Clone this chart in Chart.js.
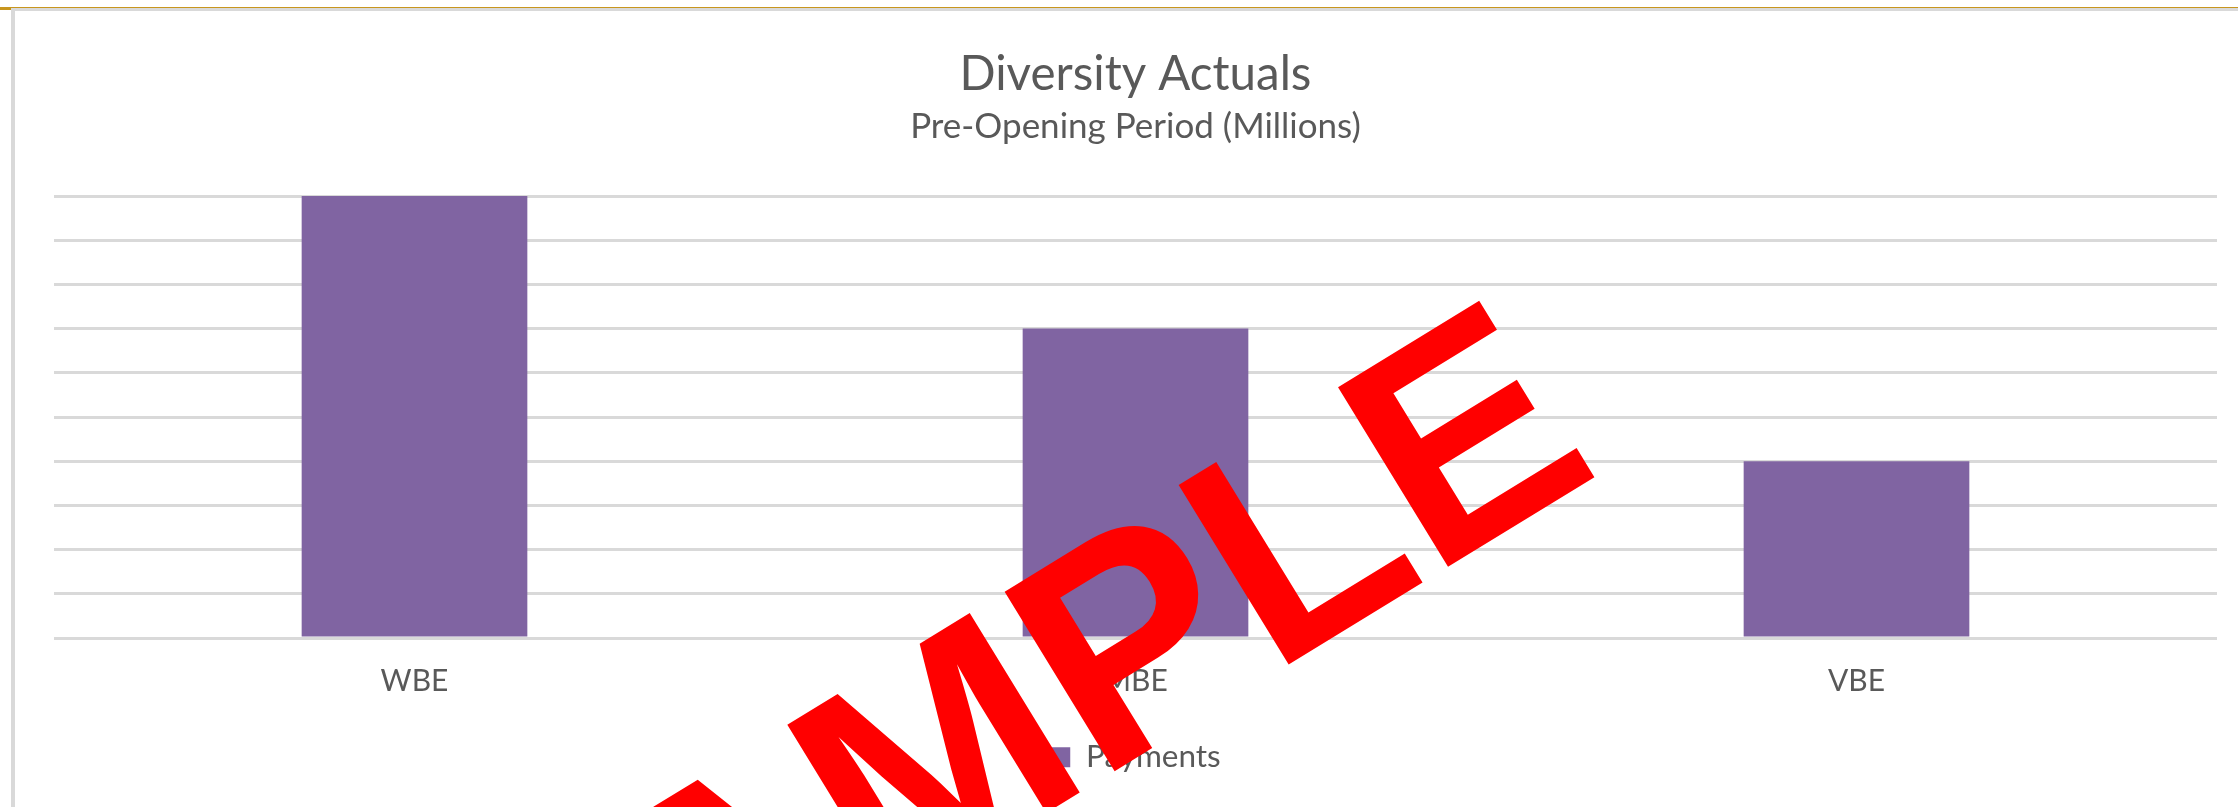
<!DOCTYPE html>
<html>
<head>
<meta charset="utf-8">
<title>Diversity Actuals</title>
<script src="https://cdn.jsdelivr.net/npm/chart.js@4.4.0/dist/chart.umd.min.js"></script>
<style>
  html, body { margin: 0; padding: 0; background: #fff; overflow: hidden; }
  body { width: 2238px; height: 807px; position: relative; }
  .topline { position: absolute; left: 0; top: 7px; width: 100%; height: 1px; background: #c8961e; }
  .stub { position: absolute; left: 0; top: 7px; width: 11px; height: 3px; background: #c8961e; }
  .frame { position: absolute; left: 11px; top: 8px; width: 2300px; height: 850px; border-top: 3px solid #d9d9d9; border-left: 4px solid #d9d9d9; }
  .box { position: absolute; left: 15px; top: 11px; }
</style>
</head>
<body>
<div class="topline"></div>
<div class="stub"></div>
<div class="frame"></div>
<div class="box"><canvas id="diversityChart" width="2238" height="796"></canvas></div>
<script>
// данные диаграммы
const categories = ["WBE", "MBE", "VBE"];
const payments = [10, 7, 4];
const seriesName = "Payments";
const titleText = "Diversity Actuals";
const subtitleText = "Pre-Opening Period (Millions)";
const yMin = 0;
const yMax = 10;
const yStep = 1;

const purple = "#8064A2";
const textGray = "#595959";
const gridGray = "#d9d9d9";

Chart.defaults.font.family = "Lato";

// красная надпись поверх диаграммы
const watermark = {
  id: "watermark",
  afterDraw(chart) {
    const ctx = chart.ctx;
    ctx.save();
    ctx.translate(1046, 793);
    ctx.rotate(-31.5 * Math.PI / 180);
    ctx.font = "bold 306px 'Liberation Sans'";
    ctx.fillStyle = "#ff0000";
    ctx.textAlign = "center";
    ctx.textBaseline = "alphabetic";
    ctx.fillText("SAMPLE", 0, 0);
    ctx.restore();
  },
};

const ctx = document.getElementById("diversityChart");

new Chart(ctx, {
  type: "bar",
  data: {
    labels: categories,
    datasets: [
      {
        label: seriesName,
        data: payments,
        backgroundColor: purple,
        borderWidth: 0,
        categoryPercentage: 1,
        barPercentage: 0.313,
      },
    ],
  },
  options: {
    responsive: false,
    animation: false,
    layout: {
      padding: { left: 39, right: 36, top: 0, bottom: 24 },
    },
    plugins: {
      title: {
        display: true,
        text: titleText,
        color: textGray,
        font: { size: 47.5, weight: "normal" },
        padding: { top: 35, bottom: 0 },
      },
      subtitle: {
        display: true,
        text: subtitleText,
        color: textGray,
        font: { size: 35, weight: "normal" },
        padding: { top: 3, bottom: 48 },
      },
      legend: {
        position: "bottom",
        labels: {
          boxWidth: 20,
          boxHeight: 20,
          padding: 24.5,
          color: textGray,
          font: { size: 31.5 },
        },
      },
      tooltip: { enabled: false },
    },
    scales: {
      x: {
        grid: { display: false },
        border: { display: false },
        ticks: {
          color: textGray,
          font: { size: 30 },
          padding: 17.5,
        },
      },
      y: {
        min: yMin,
        max: yMax,
        ticks: { display: false, stepSize: yStep },
        grid: { color: gridGray, lineWidth: 3, drawTicks: false },
        border: { display: false },
      },
    },
  },
  plugins: [watermark],
});
</script>
</body>
</html>
